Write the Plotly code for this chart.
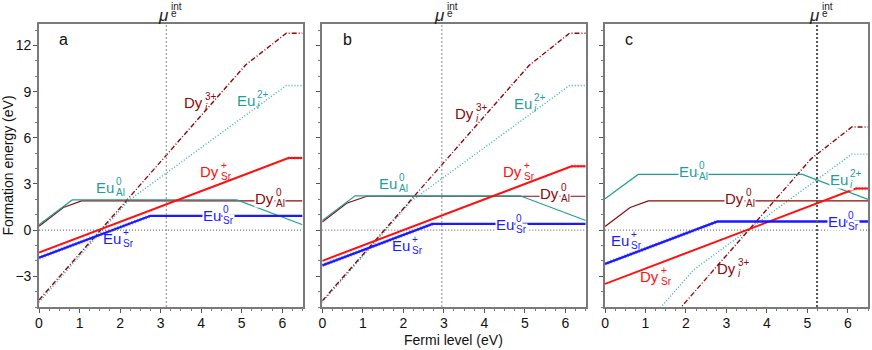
import plotly.graph_objects as go

# Fermi level range and chemical potential of electrons for each panel
x_max = 6.5
mu_int = {"a": 3.14, "b": 2.95, "c": 5.24}

# formation energy lines (x = Fermi level in eV, y = energy in eV)
# panel a
a_euAl_x = [0, 0.82, 4.88, 6.5]
a_euAl_y = [0.35, 1.96, 1.96, 0.35]
a_dyAl_x = [0, 0.6, 1.05, 6.5]
a_dyAl_y = [0.25, 1.47, 1.9, 1.9]
a_euSr_x = [0, 2.75, 6.5]
a_euSr_y = [-1.8, 0.93, 0.93]
a_dySr_x = [0, 6.15, 6.5]
a_dySr_y = [-1.46, 4.68, 4.68]
a_dyI_x = [0, 5.1, 6.1, 6.5]
a_dyI_y = [-4.55, 10.75, 12.8, 12.8]
a_euI_x = [0, 2.2, 6.1, 6.5]
a_euI_y = [-4.7, 1.9, 9.4, 9.4]

# panel b
b_euAl_x = [0, 0.81, 4.88, 6.5]
b_euAl_y = [0.62, 2.23, 2.23, 0.62]
b_dyAl_x = [0, 0.6, 1.1, 6.5]
b_dyAl_y = [0.52, 1.75, 2.2, 2.2]
b_euSr_x = [0, 2.72, 6.5]
b_euSr_y = [-2.3, 0.4, 0.4]
b_dySr_x = [0, 6.15, 6.5]
b_dySr_y = [-2.0, 4.15, 4.15]
b_dyI_x = [0, 5.1, 6.1, 6.5]
b_dyI_y = [-4.6, 10.7, 12.8, 12.8]
b_euI_x = [0, 2.2, 6.1, 6.5]
b_euI_y = [-4.7, 1.9, 9.4, 9.4]

# panel c
c_euAl_x = [0, 0.82, 4.88, 6.5]
c_euAl_y = [2.04, 3.62, 3.62, 2.0]
c_dyAl_x = [0, 0.62, 1.07, 6.5]
c_dyAl_y = [0.24, 1.47, 1.9, 1.9]
c_euSr_x = [0, 2.78, 6.5]
c_euSr_y = [-2.2, 0.56, 0.56]
c_dySr_x = [0, 6.2, 6.5]
c_dySr_y = [-3.5, 2.7, 2.7]
c_dyI_x = [0, 5.1, 6.1, 6.5]
c_dyI_y = [-10.65, 4.65, 6.7, 6.7]
c_euI_x = [0, 2.2, 6.1, 6.5]
c_euI_y = [-9.16, -2.56, 4.94, 4.94]

DARKRED = "#8b0a0a"
TEAL = "#1f9e98"
TEAL_DOT = "#33b0b0"
BLUE = "#1a1aff"
RED = "#ff1010"
FONT = "Arial, Liberation Sans, sans-serif"

fig = go.Figure()


def line(ax, xs, ys, color, width, dash="solid", opacity=1.0):
    fig.add_trace(go.Scatter(
        x=xs, y=ys, mode="lines", xaxis=f"x{ax}", yaxis=f"y{ax}",
        line=dict(color=color, width=width, dash=dash), opacity=opacity,
        hoverinfo="skip", showlegend=False))


panels = [
    ("", a_euAl_x, a_euAl_y, a_dyAl_x, a_dyAl_y, a_euSr_x, a_euSr_y,
     a_dySr_x, a_dySr_y, a_dyI_x, a_dyI_y, a_euI_x, a_euI_y),
    ("2", b_euAl_x, b_euAl_y, b_dyAl_x, b_dyAl_y, b_euSr_x, b_euSr_y,
     b_dySr_x, b_dySr_y, b_dyI_x, b_dyI_y, b_euI_x, b_euI_y),
    ("3", c_euAl_x, c_euAl_y, c_dyAl_x, c_dyAl_y, c_euSr_x, c_euSr_y,
     c_dySr_x, c_dySr_y, c_dyI_x, c_dyI_y, c_euI_x, c_euI_y),
]

for p in panels:
    ax, eAx, eAy, dAx, dAy, eSx, eSy, dSx, dSy, dIx, dIy, eIx, eIy = p
    line(ax, eIx, eIy, TEAL_DOT, 1.4, "1px,2px")
    line(ax, dIx, dIy, DARKRED, 1.4, "5px,2px,1px,2px")
    line(ax, dAx, dAy, DARKRED, 1.2)
    line(ax, eAx, eAy, TEAL, 1.2)
    # overlapping states give the hatched look
    line(ax, dSx[-2:], dSy[-2:], RED, 3.5, "1px,2px", 0.45)
    line(ax, dSx, dSy, RED, 2)
    line(ax, eSx[:2], eSy[:2], BLUE, 3.8, "1px,2px", 0.45)
    line(ax, eSx, eSy, BLUE, 2.3)

# axes
domains = [[0, 0.3179], [0.3417, 0.6595], [0.6828, 1.0]]
for i, dom in enumerate(domains):
    k = "" if i == 0 else str(i + 1)
    fig.update_layout(**{
        f"xaxis{k}": dict(
            domain=dom, range=[0, x_max], anchor=f"y{k}", automargin=False,
            showline=True, mirror=True, linecolor="#7a7a7a", linewidth=1.6,
            ticks="outside", ticklen=4, tickcolor="#555", tickwidth=1,
            tick0=0, dtick=1, showgrid=False, zeroline=False, ticklabelstandoff=-2,
            minor=dict(ticks="outside", dtick=0.25, ticklen=2.5, tickcolor="#777"),
            tickfont=dict(size=14, color="#111", family=FONT)),
        f"yaxis{k}": dict(
            range=[-5, 13.4], anchor=f"x{k}", automargin=False,
            showline=True, mirror=True, linecolor="#7a7a7a", linewidth=1.6,
            ticks="outside", ticklen=4, tickcolor="#555", tickwidth=1,
            tick0=0, dtick=3, showgrid=False, zeroline=False, ticklabelstandoff=-1,
            showticklabels=(i == 0),
            minor=dict(ticks="outside", dtick=1, ticklen=2.5, tickcolor="#777"),
            tickfont=dict(size=14, color="#111", family=FONT)),
    })

fig.update_layout(
    yaxis_title=dict(text="Formation energy (eV)", font=dict(size=14, family=FONT, color="#111"), standoff=0),
)
fig.add_annotation(x=sum(domains[1]) / 2, y=-0.117, xref="paper", yref="paper",
                   text="Fermi level (eV)", showarrow=False, yanchor="middle",
                   font=dict(size=14, family=FONT, color="#111"))

# zero line and mu_e^int lines
for i, key in enumerate(["a", "b", "c"]):
    k = "" if i == 0 else str(i + 1)
    fig.add_shape(type="line", xref=f"x{k} domain", yref=f"y{k}", x0=0, x1=1, y0=0, y1=0,
                  line=dict(color="#555", width=1, dash="1px,2px"))
    dark = key == "c"
    fig.add_shape(type="line", xref=f"x{k}", yref=f"y{k} domain", x0=mu_int[key], x1=mu_int[key],
                  y0=0, y1=1,
                  line=dict(color="#555" if dark else "#999", width=2 if dark else 1.2, dash="2px,2px"))


def label(ax, x, y, base, sub, sup, color, bg=False, size=15, yref=None, sub_dy=-5, sup_dy=6):
    xr = f"x{ax}"
    yr = yref if yref else f"y{ax}"
    bgc = "white" if bg else None
    fig.add_annotation(x=x, y=y, xref=xr, yref=yr, text=base, showarrow=False,
                       xanchor="right", font=dict(size=size, color=color, family=FONT),
                       bgcolor=bgc, borderpad=0)
    if sub:
        fig.add_annotation(x=x, y=y, xref=xr, yref=yr, text=sub, showarrow=False,
                           xanchor="left", yshift=sub_dy, font=dict(size=10, color=color, family=FONT),
                           bgcolor=bgc, borderpad=0)
    if sup:
        fig.add_annotation(x=x, y=y, xref=xr, yref=yr, text=sup, showarrow=False,
                           xanchor="left", yshift=sup_dy, font=dict(size=10, color=color, family=FONT),
                           bgcolor=bgc, borderpad=0)


# panel letters
for ax, letter in [("", "a"), ("2", "b"), ("3", "c")]:
    fig.add_annotation(x=0.45, y=12.4, xref=f"x{ax}", yref=f"y{ax}", text=letter,
                       showarrow=False, xanchor="left", font=dict(size=16, color="#111", family=FONT))

# mu_e^int labels above each panel
for ax, key in [("", "a"), ("2", "b"), ("3", "c")]:
    label(ax, mu_int[key] + 0.1, 1.068, "<i>μ</i>", "e", "int", "#222", size=17,
          yref=f"y{ax} domain", sub_dy=-2, sup_dy=5)

# panel a labels
label("", 4.06, 8.3, "Dy", "<i>i</i>", "3+", DARKRED)
label("", 5.34, 8.45, "Eu", "<i>i</i>", "2+", TEAL)
label("", 4.47, 3.8, "Dy", "Sr", "+", RED)
label("", 1.87, 2.77, "Eu", "Al", "0", TEAL)
label("", 5.81, 2.08, "Dy", "Al", "0", DARKRED, bg=True)
label("", 4.51, 0.93, "Eu", "Sr", "0", BLUE, bg=True)
label("", 2.04, -0.57, "Eu", "Sr", "+", BLUE)

# panel b labels
label("2", 3.77, 7.6, "Dy", "<i>i</i>", "3+", DARKRED)
label("2", 5.21, 8.26, "Eu", "<i>i</i>", "2+", TEAL)
label("2", 4.96, 3.8, "Dy", "Sr", "+", RED)
label("2", 1.88, 3.06, "Eu", "Al", "0", TEAL)
label("2", 5.87, 2.4, "Dy", "Al", "0", DARKRED, bg=True)
label("2", 4.76, 0.39, "Eu", "Sr", "0", BLUE, bg=True)
label("2", 2.2, -1.02, "Eu", "Sr", "+", BLUE)

# panel c labels
label("3", 2.31, 3.8, "Eu", "Al", "0", TEAL, bg=True)
label("3", 6.04, 3.27, "Eu", "<i>i</i>", "2+", TEAL, bg=True)
label("3", 3.47, 2.04, "Dy", "Al", "0", DARKRED, bg=True)
label("3", 5.98, 0.56, "Eu", "Sr", "0", BLUE, bg=True)
label("3", 0.62, -0.7, "Eu", "Sr", "+", BLUE)
label("3", 1.36, -3.02, "Dy", "Sr", "+", RED)
label("3", 3.26, -2.52, "Dy", "<i>i</i>", "3+", DARKRED)

fig.update_layout(
    width=872, height=350,
    margin=dict(l=39, r=4, t=24, b=43),
    plot_bgcolor="white", paper_bgcolor="white",
    showlegend=False,
    font=dict(family=FONT),
)

# page body has a default margin; drop it so the figure fills the window
fig.write_html("out.html", config={"displayModeBar": False},
               post_script="document.body.style.margin='0';")
